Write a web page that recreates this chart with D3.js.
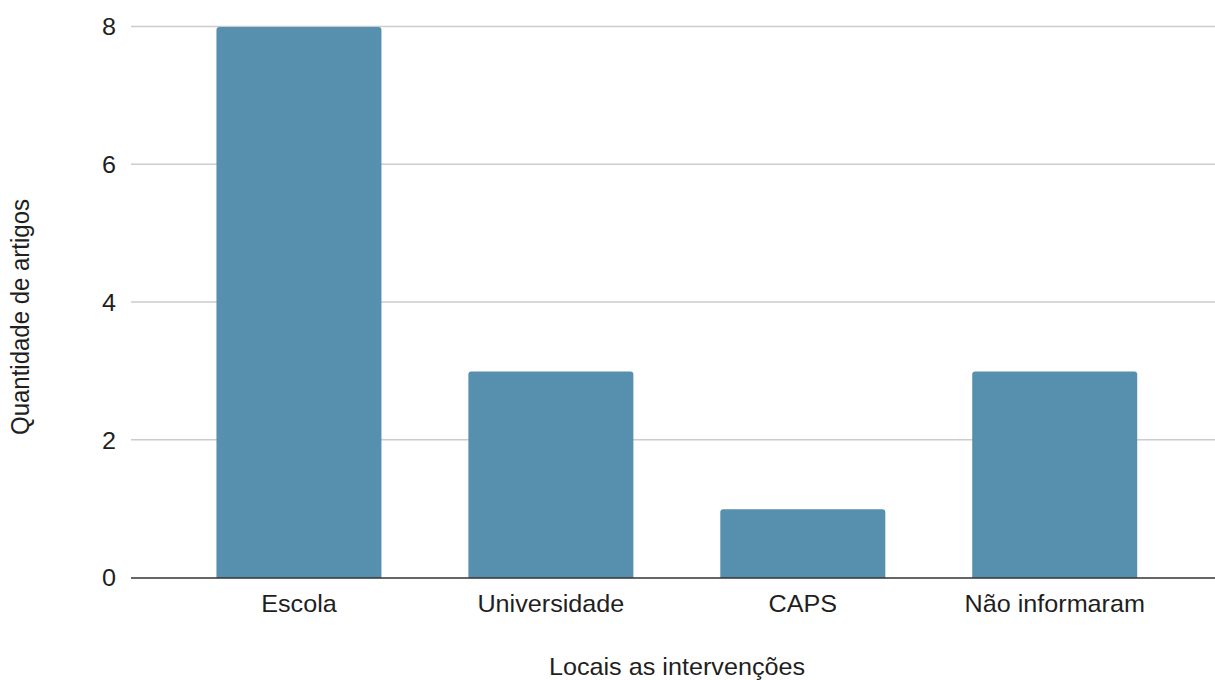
<!DOCTYPE html>
<html><head><meta charset="utf-8">
<script src="https://cdn.jsdelivr.net/npm/d3@7"></script>
<style>
html,body{margin:0;padding:0;background:#fff;}
svg{display:block;}
text{font-family:"Liberation Sans",Arial,sans-serif;fill:#1f1f1f;}
</style></head>
<body>
<svg id="chart" width="1215" height="680"></svg>
<script>
const categories = ["Escola", "Universidade", "CAPS", "Não informaram"];
const values = [8, 3, 1, 3];
const yTicks = [0, 2, 4, 6, 8];
const xTitle = "Locais as intervenções";
const yTitle = "Quantidade de artigos";

(function () {
const svg = d3.select("#chart");
const pLeft = 131, pRight = 1215, pTop = 27, pBottom = 578;
const fs = 24, sx = 1.05;

const x = d3.scaleBand().domain(categories).range([pLeft, 1213])
  .paddingInner(0.345).paddingOuter(0.32).align(0.53);
const y = d3.scaleLinear().domain([0, 8]).range([pBottom, pTop]);

// grid
svg.append("g").selectAll("line").data(yTicks.filter(d => d !== 0)).join("line")
  .attr("x1", pLeft).attr("x2", pRight)
  .attr("y1", d => y(d) - 0.5).attr("y2", d => y(d) - 0.5)
  .attr("stroke", "#cccccc").attr("stroke-width", 1.3);

// bars with rounded top corners
const r = 3;
svg.append("g").selectAll("path").data(categories).join("path")
  .attr("d", (c, i) => {
    const x0 = x(c), w = x.bandwidth(), y0 = y(values[i]), y1 = y(0);
    return `M${x0},${y1}V${y0 + r}Q${x0},${y0} ${x0 + r},${y0}H${x0 + w - r}Q${x0 + w},${y0} ${x0 + w},${y0 + r}V${y1}Z`;
  })
  .attr("fill", "#5790ae");

// baseline
svg.append("line").attr("x1", pLeft).attr("x2", pRight)
  .attr("y1", y(0)).attr("y2", y(0))
  .attr("stroke", "#333").attr("stroke-width", 1.6);

// y tick labels
svg.append("g").selectAll("text").data(yTicks).join("text")
  .attr("transform", d => `translate(116,${y(d)}) scale(${sx},1)`)
  .attr("dy", "0.35em")
  .attr("text-anchor", "end").attr("font-size", fs)
  .text(d => d);

// x tick labels
svg.append("g").selectAll("text").data(categories).join("text")
  .attr("transform", c => `translate(${x(c) + x.bandwidth() / 2},612) scale(${sx},1)`)
  .attr("text-anchor", "middle").attr("font-size", fs)
  .text(c => c);

// axis titles
svg.append("text").attr("transform", `translate(677,675) scale(${sx},1)`)
  .attr("text-anchor", "middle").attr("font-size", fs).text(xTitle);
svg.append("text").attr("transform", `translate(29,317) scale(${sx},1) rotate(-90)`)
  .attr("text-anchor", "middle").attr("font-size", fs).text(yTitle);
})();
</script>
</body></html>
